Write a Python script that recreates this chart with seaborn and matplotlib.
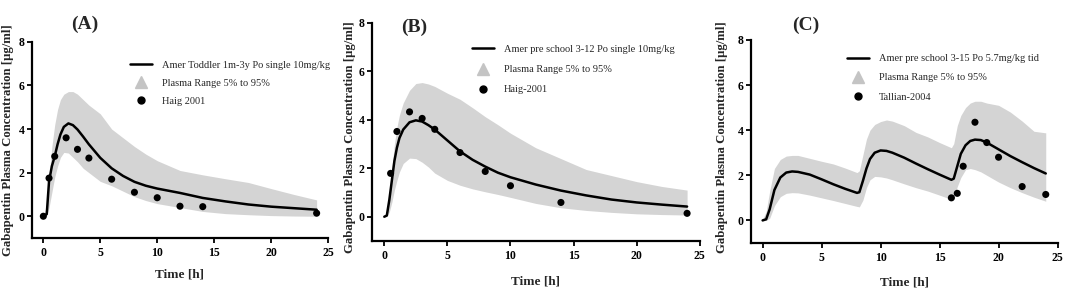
import matplotlib
matplotlib.use("Agg")
import matplotlib.pyplot as plt
from matplotlib.lines import Line2D
import seaborn as sns


# ----------------------------
# Data
# ----------------------------

# Panel A - toddler, single 10 mg/kg
a_time = [0, 0.3, 0.5, 0.75, 1, 1.25, 1.5, 1.8, 2.2, 2.6, 3, 3.5, 4, 5, 6, 7, 8, 9, 10, 12, 14, 16, 18, 20, 22, 24]
a_pred = [0, 0.1, 1.6, 2.3, 2.75, 3.3, 3.75, 4.1, 4.26, 4.18, 3.98, 3.65, 3.3, 2.68, 2.2, 1.85, 1.58, 1.4, 1.27, 1.07, 0.84, 0.68, 0.54, 0.44, 0.37, 0.3]
a_upper = [0, 0.5, 1.8, 3.2, 4.2, 4.9, 5.35, 5.6, 5.72, 5.72, 5.6, 5.35, 5.1, 4.7, 4.0, 3.6, 3.2, 2.85, 2.55, 2.1, 1.9, 1.72, 1.55, 1.27, 1.0, 0.75]
a_lower = [0, 0.05, 0.4, 1.1, 1.8, 2.3, 2.7, 2.93, 2.9, 2.7, 2.5, 2.2, 2.0, 1.6, 1.4, 1.15, 0.9, 0.72, 0.58, 0.4, 0.22, 0.12, 0.07, 0.03, 0.01, 0.0]
a_obs_time = [0, 0.5, 1, 2, 3, 4, 6, 8, 10, 12, 14, 24]
a_obs = [0, 1.75, 2.75, 3.6, 3.07, 2.67, 1.7, 1.1, 0.85, 0.46, 0.44, 0.14]

# Panel B - pre school 3-12, single 10 mg/kg
b_time = [0, 0.2, 0.4, 0.6, 0.8, 1, 1.2, 1.5, 2, 2.5, 3, 3.5, 4, 5, 6, 7, 8, 9, 10, 12, 14, 16, 18, 20, 22, 24]
b_pred = [0, 0.05, 0.7, 1.5, 2.3, 2.85, 3.25, 3.6, 3.9, 3.98, 3.93, 3.78, 3.6, 3.15, 2.7, 2.35, 2.07, 1.82, 1.63, 1.33, 1.08, 0.88, 0.71, 0.59, 0.5, 0.42]
b_upper = [0, 0.1, 0.9, 2.0, 3.0, 3.7, 4.2, 4.7, 5.22, 5.5, 5.54, 5.48, 5.38, 5.1, 4.85, 4.5, 4.13, 3.8, 3.45, 2.85, 2.4, 1.95, 1.7, 1.45, 1.25, 1.1]
b_lower = [0, 0.02, 0.2, 0.6, 1.1, 1.5, 1.85, 2.2, 2.42, 2.4, 2.25, 2.05, 1.8, 1.5, 1.3, 1.15, 1.03, 0.92, 0.8, 0.55, 0.37, 0.26, 0.18, 0.12, 0.09, 0.07]
b_obs_time = [0.5, 1, 2, 3, 4, 6, 8, 10, 14, 24]
b_obs = [1.79, 3.52, 4.33, 4.06, 3.61, 2.65, 1.87, 1.28, 0.59, 0.14]

# Panel C - pre school 3-15, 5.7 mg/kg tid
c_time = [0, 0.3, 0.6, 1.0, 1.5, 2.0, 2.5, 3, 4, 5, 6, 7, 8, 8.2, 8.5, 8.8, 9.1, 9.5, 10, 10.5, 11, 12, 13, 14, 15, 16,
          16.2, 16.5, 16.8, 17.2, 17.6, 18, 18.5, 19, 20, 21, 22, 23, 24]
c_pred = [0, 0.05, 0.5, 1.35, 1.9, 2.12, 2.17, 2.15, 2.03, 1.82, 1.6, 1.4, 1.22, 1.25, 1.75, 2.3, 2.72, 3.0, 3.1, 3.08, 3.0, 2.78, 2.52, 2.27, 2.03, 1.8,
          1.85, 2.4, 2.95, 3.33, 3.52, 3.58, 3.56, 3.45, 3.15, 2.85, 2.58, 2.32, 2.08]
c_upper = [0.05, 0.4, 1.3, 2.3, 2.7, 2.85, 2.88, 2.88, 2.75, 2.62, 2.5, 2.32, 2.12, 2.2, 2.9, 3.6, 4.0, 4.25, 4.38, 4.45, 4.4, 4.2, 3.9, 3.7, 3.45, 3.22,
           3.4, 4.2, 4.65, 5.0, 5.2, 5.28, 5.28, 5.2, 5.1, 4.8, 4.4, 3.95, 3.88]
c_lower = [0, 0, 0.1, 0.65, 1.05, 1.2, 1.23, 1.22, 1.12, 1.0, 0.88, 0.75, 0.62, 0.6, 0.9, 1.45, 1.8, 1.95, 1.93, 1.88, 1.8, 1.62, 1.45, 1.3, 1.12, 0.93,
           1.0, 1.5, 1.9, 2.25, 2.3, 2.25, 2.15, 2.0, 1.7, 1.45, 1.23, 1.03, 0.85]
c_obs_time = [16, 16.5, 17, 18, 19, 20, 22, 24]
c_obs = [1.0, 1.2, 2.4, 4.35, 3.45, 2.8, 1.5, 1.15]

panel_titles = ["(A)", "(B)", "(C)"]
line_labels = ["Amer Toddler 1m-3y Po single 10mg/kg",
               "Amer pre school 3-12 Po single 10mg/kg",
               "Amer pre school 3-15 Po 5.7mg/kg tid"]
band_label = "Plasma Range 5% to 95%"
obs_labels = ["Haig 2001", "Haig-2001", "Tallian-2004"]


# ----------------------------
# Style
# ----------------------------

sns.set_style("ticks")
plt.rcParams['font.family'] = ['Liberation Serif', 'DejaVu Serif']
plt.rcParams['font.weight'] = 'bold'

band_color = "#d4d4d4"

fig = plt.figure(figsize=(10.65, 2.91), dpi=100)

# axes boxes in figure fraction [left, bottom, width, height]
boxes = [[0.030, 0.182, 0.278, 0.674],
         [0.349, 0.172, 0.308, 0.749],
         [0.705, 0.165, 0.288, 0.698]]
title_pos = [(0.18, 1.087), (0.13, 0.98), (0.18, 1.07)]
legend_pos = [(0.33, 0.905), (0.305, 0.90), (0.313, 0.93)]
legend_space = [0.84, 1.04, 0.94]
ylabel_pos = [(-0.062, 0.50), (-0.047, 0.477), (-0.073, 0.52)]
xlabel_pos = [(0.5, -0.155), (0.5, -0.16), (0.5, -0.165)]

panels = [
    (a_time, a_pred, a_upper, a_lower, a_obs_time, a_obs),
    (b_time, b_pred, b_upper, b_lower, b_obs_time, b_obs),
    (c_time, c_pred, c_upper, c_lower, c_obs_time, c_obs),
]


# ----------------------------
# Draw panels
# ----------------------------

for i, (t, pred, up, lo, ot, obs) in enumerate(panels):
    ax = fig.add_axes(boxes[i])

    ax.fill_between(t, lo, up, color=band_color, linewidth=0, zorder=1)
    sns.lineplot(x=t, y=pred, ax=ax, color="black", linewidth=1.8, zorder=3)
    sns.scatterplot(x=ot, y=obs, ax=ax, color="black", s=26, edgecolor="none", zorder=4)

    ax.set_xlim(-1, 25)
    ax.set_ylim(-1, 8)
    ax.set_xticks([0, 5, 10, 15, 20, 25])
    ax.set_yticks([0, 2, 4, 6, 8])

    sns.despine(ax=ax)
    for side in ["left", "bottom"]:
        ax.spines[side].set_linewidth(1.6)
        ax.spines[side].set_color("black")
    ax.tick_params(direction="out", length=3.6, width=1.3, labelsize=8.5, colors="black")
    ax.tick_params(axis="x", pad=3)
    ax.tick_params(axis="y", pad=1.5)
    for lab in ax.get_xticklabels() + ax.get_yticklabels():
        lab.set_fontweight("bold")

    ax.set_xlabel("Time [h]", fontsize=9.5, fontweight="bold")
    ax.set_ylabel("Gabapentin Plasma Concentration [μg/ml]", fontsize=9.2, fontweight="bold")
    ax.xaxis.set_label_coords(*xlabel_pos[i])
    ax.yaxis.set_label_coords(*ylabel_pos[i])

    ax.text(title_pos[i][0], title_pos[i][1], panel_titles[i], transform=ax.transAxes,
            ha="center", va="center", fontsize=14, fontweight="bold")

    handles = [
        Line2D([], [], color="black", linewidth=1.8, label=line_labels[i]),
        Line2D([], [], color="#c4c4c4", marker="^", markersize=9, linestyle="none", label=band_label),
        Line2D([], [], color="black", marker="o", markersize=5, linestyle="none", label=obs_labels[i]),
    ]
    ax.legend(handles=handles, loc="upper left", bbox_to_anchor=legend_pos[i],
              frameon=False, borderpad=0, borderaxespad=0, handlelength=2.1,
              handletextpad=1.0, labelspacing=legend_space[i],
              prop={"family": "Liberation Serif", "weight": "normal", "size": 7.5})

plt.savefig("out.png", dpi=100)
plt.close()
